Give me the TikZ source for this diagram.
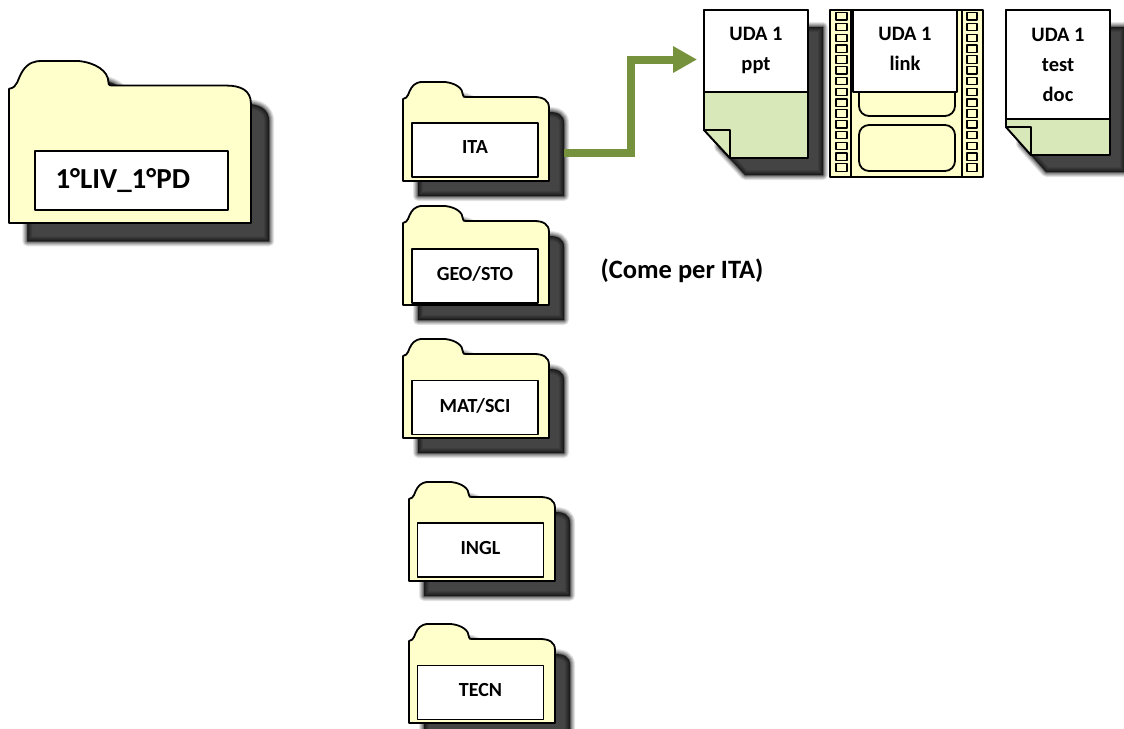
\documentclass[tikz,border=0pt]{standalone}
\usepackage{fontspec}
\setmainfont{Carlito}
\usepackage{tikz}
\usetikzlibrary{arrows.meta}
\definecolor{folderyellow}{HTML}{FFFFCC}
\definecolor{notegreen}{HTML}{D8E8B8}
\definecolor{flowgreen}{HTML}{76923C}
\tikzset{
  outline/.style={draw=black, line width=1.8pt, line join=round},
  shade layer/.style={draw=black, fill=black, line join=round},
  namebox/.style={outline, fill=white, inner sep=0pt, font=\bfseries\fontsize{20}{24}\selectfont, text depth=5pt},
  notebox/.style={outline, fill=white, inner sep=0pt, align=center, font=\bfseries\fontsize{20.5}{30}\selectfont},
  flow/.style={draw=flowgreen, line width=8pt, -{Triangle[length=24pt,width=25pt]}}
}
\newcommand{\folderpath}{(0,99) -- (0,17) .. controls (3,16.5) and (4,15) .. (5,13) .. controls (7,8) and (9,3) .. (14,1) .. controls (16,0) and (18,0) .. (20,0) -- (42,0) .. controls (52,1) and (60,6) .. (60,13) .. controls (60,15) and (61,15) .. (63,15) -- (131,15) .. controls (140,15) and (146,18) .. (146,26) -- (146,99) -- cycle}
% x, y, xscale, yscale
\newcommand{\folder}[4]{
  \foreach \w/\o in {10/.1,8/.12,6/.15,4/.18,2/.25,0.1/.35}
    \path[shade layer, opacity=\o, line width=\w pt, shift={(#1+10+5*#3,#2+10+5*#3)}, xscale=#3, yscale=#4] \folderpath;
  \path[outline, fill=folderyellow, shift={(#1,#2)}, xscale=#3, yscale=#4] \folderpath;
}
\newcommand{\noteshadow}[1]{
  \foreach \w/\o in {10/.1,8/.12,6/.15,4/.18,2/.25,0.1/.35}
    \path[shade layer, opacity=\o, line width=\w pt, shift={(15,17)}] #1;
}
\begin{document}
\begin{tikzpicture}[x=1pt, y=-1pt]
  \useasboundingbox (0,0) rectangle (1124,728);

  % folders
  \folder{9}{61}{1.657}{1.636}
  \folder{403}{82}{1}{1}
  \folder{403}{206}{1}{1}
  \folder{403}{339}{1}{1}
  \folder{409}{482}{1}{1}
  \folder{409}{624}{1}{1}

  \node[namebox, minimum width=193pt, minimum height=59pt, text width=152pt, align=left, font=\bfseries\fontsize{29}{32}\selectfont] (root) at (131.5,180.5) {1°LIV\_1°PD};
  \node[namebox, minimum width=126pt, minimum height=54pt] (ita) at (475,150) {ITA};
  \node[namebox, minimum width=126pt, minimum height=54pt] (geo) at (475,276) {GEO/STO};
  \node[namebox, minimum width=126pt, minimum height=54pt] (mat) at (475,407.5) {MAT/SCI};
  \node[namebox, minimum width=126pt, minimum height=54pt] (ingl) at (480.5,550) {INGL};
  \node[namebox, minimum width=126pt, minimum height=54pt] (tecn) at (480.5,692.5) {TECN};
  \node[font=\bfseries\fontsize{26.5}{30}\selectfont] (same) at (682,271) {(Come per ITA)};

  % ppt sheet
  \noteshadow{(704,10) -- (808,10) -- (808,158) -- (730,158) -- (704,130) -- cycle}
  \path[outline, fill=notegreen] (704,10) -- (808,10) -- (808,158) -- (730,158) -- (704,130) -- cycle;
  \path[outline, fill=notegreen] (704,130) -- (730,130) -- (730,158) -- cycle;
  \node[notebox, minimum width=104pt, minimum height=82pt, text depth=4pt] (ppt) at (756,51) {UDA 1\\ppt};

  % film strip
  \path[outline, fill=folderyellow] (830,10) rectangle (983,177);
  \draw[outline] (851,10) -- (851,177) (962,10) -- (962,177);
  \foreach \i in {0,...,14} {
    \path[outline, line width=1.2pt, fill=folderyellow] (836,12.5+10.8*\i) rectangle ++(11,7.5);
    \path[outline, line width=1.2pt, fill=folderyellow] (967,12.5+10.8*\i) rectangle ++(10,7.5);
  }
  \path[outline, fill=folderyellow, rounded corners=10pt] (859,70) rectangle (955,116);
  \path[outline, fill=folderyellow, rounded corners=10pt] (859,125) rectangle (955,171);
  \node[notebox, minimum width=104pt, minimum height=82pt, text depth=4pt] (link) at (905,51) {UDA 1\\link};

  % test sheet
  \noteshadow{(1006,10) -- (1110,10) -- (1110,155) -- (1031,155) -- (1006,127) -- cycle}
  \path[outline, fill=notegreen] (1006,10) -- (1110,10) -- (1110,155) -- (1031,155) -- (1006,127) -- cycle;
  \path[outline, fill=notegreen] (1006,127) -- (1031,127) -- (1031,155) -- cycle;
  \node[notebox, minimum width=104pt, minimum height=109pt] (test) at (1058,64.5) {UDA 1\\test\\doc};

  % arrow
  \coordinate (itaout) at ([xshift=25pt,yshift=-3pt]ita.east);
  \coordinate (pptin) at ([xshift=-6pt,yshift=-8.5pt]ppt.west);
  \draw[flow] (itaout) -- ++(67,0) |- (pptin);
\end{tikzpicture}
\end{document}
